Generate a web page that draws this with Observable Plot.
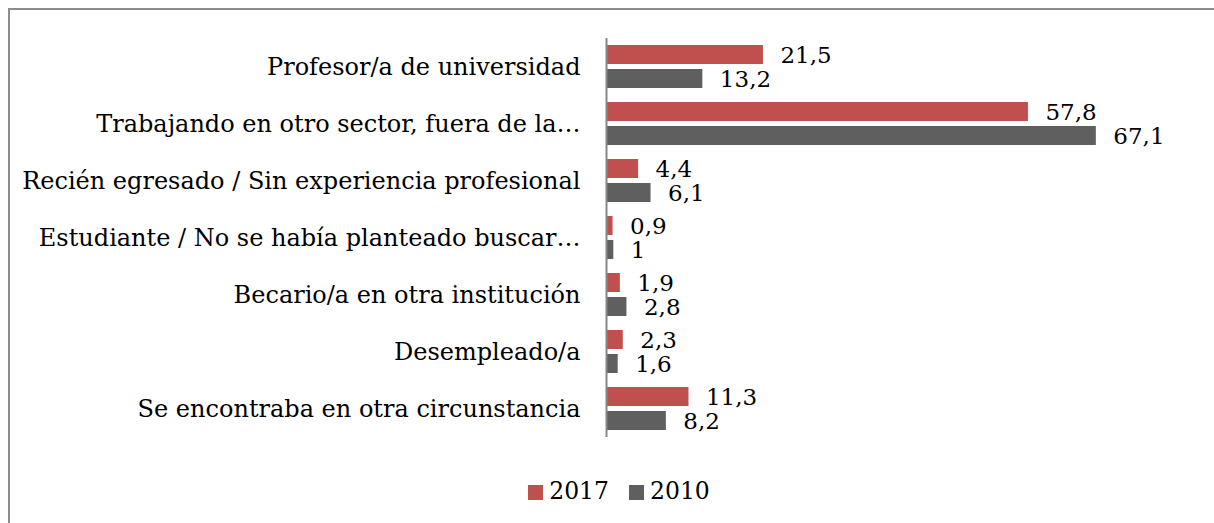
<!DOCTYPE html>
<html><head><meta charset="utf-8">
<script src="https://cdn.jsdelivr.net/npm/d3@7"></script>
<script src="https://cdn.jsdelivr.net/npm/@observablehq/plot@0.6"></script>
<style>
body{margin:0;background:#fff;font-family:"DejaVu Serif",serif;}
#wrap{position:relative;width:1214px;height:523px;overflow:hidden;background:#fff;}
#frame{position:absolute;left:8px;top:8px;width:1222px;height:540px;border:2px solid #8c8c8c;box-sizing:border-box;}
#chart{position:absolute;left:0;top:0;}
#legend{position:absolute;left:0;top:474px;width:1238px;text-align:center;font-size:23.5px;line-height:34px;color:#000;}
#legend .item{display:inline-block;margin:0 10px;}
#legend .sw{display:inline-block;width:15px;height:15px;margin-right:6px;vertical-align:-1px;}
</style></head><body>
<div id="wrap"><div id="frame"></div><div id="chart"></div><div id="legend"></div></div>
<script>
const categories = [
  "Profesor/a de universidad",
  "Trabajando en otro sector, fuera de la…",
  "Recién egresado / Sin experiencia profesional",
  "Estudiante / No se había planteado buscar…",
  "Becario/a en otra institución",
  "Desempleado/a",
  "Se encontraba en otra circunstancia"
];
const series = ["2017", "2010"];
const values2017 = [21.5, 57.8, 4.4, 0.9, 1.9, 2.3, 11.3];
const values2010 = [13.2, 67.1, 6.1, 1, 2.8, 1.6, 8.2];
const colors = ["#c0504d", "#5f5f5f"];

const data = categories.flatMap((c, i) => [
  {category: c, series: series[0], value: values2017[i]},
  {category: c, series: series[1], value: values2010[i]}
]);
const fmt = v => String(v).replace(".", ",");

const chart = Plot.plot({
  width: 1214, height: 450,
  marginTop: 38, marginBottom: 13, marginLeft: 606, marginRight: 97,
  style: {fontFamily: "DejaVu Serif", fontSize: "24px", color: "#000", background: "transparent", overflow: "visible"},
  x: {domain: [0, 70], axis: null},
  y: {domain: series, axis: null, paddingInner: 0.208, paddingOuter: 0.29},
  fy: {domain: categories, padding: 0, label: null, axis: "left", tickSize: 0, tickPadding: 26},
  color: {domain: series, range: colors},
  marks: [
    Plot.barX(data, {x: "value", y: "series", fy: "category", fill: "series"}),
    Plot.text(data, {x: "value", y: "series", fy: "category", text: d => fmt(d.value), textAnchor: "start", dx: 17, dy: 1, fill: "#000", fontSize: 23}),
    Plot.ruleX([0], {stroke: "#868686", strokeWidth: 2})
  ]
});
document.getElementById("chart").appendChild(chart);

const legend = d3.select("#legend");
series.forEach((s, i) => {
  const it = legend.append("span").attr("class", "item");
  it.append("span").attr("class", "sw").style("background", colors[i]);
  it.append("span").text(s);
});
</script>
</body></html>
